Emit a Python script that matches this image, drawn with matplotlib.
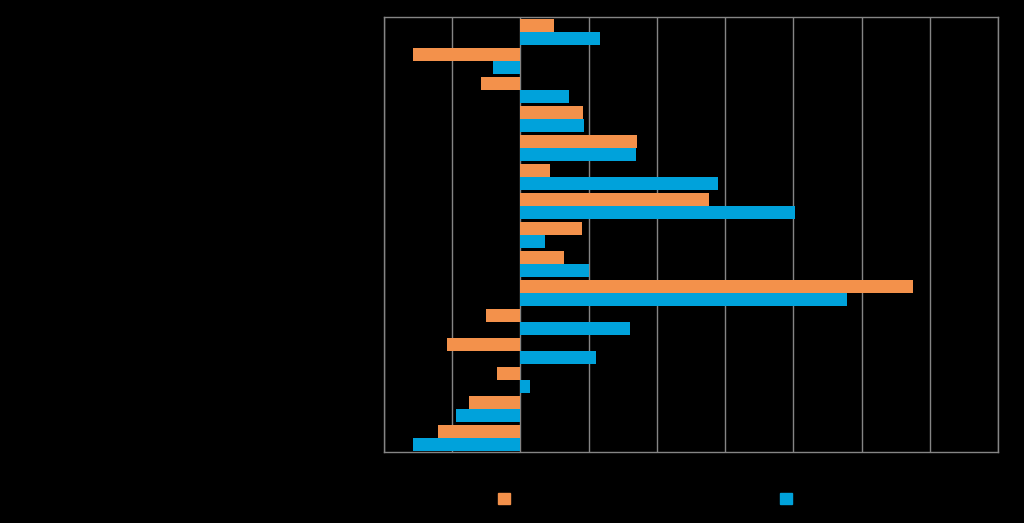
import numpy as np
import matplotlib
matplotlib.use("Agg")
import matplotlib.pyplot as plt
from matplotlib.patches import Patch

# categories top to bottom (labels are drawn black on black in the reference)
categories = ["Luokka 1", "Luokka 2", "Luokka 3", "Luokka 4", "Luokka 5",
              "Luokka 6", "Luokka 7", "Luokka 8", "Luokka 9", "Luokka 10",
              "Luokka 11", "Luokka 12", "Luokka 13", "Luokka 14", "Luokka 15"]
orange_vals = [0.49, -1.57, -0.58, 0.91, 1.71, 0.44, 2.76, 0.90, 0.64,
               5.75, -0.50, -1.08, -0.34, -0.75, -1.21]
blue_vals = [1.16, -0.40, 0.71, 0.93, 1.70, 2.89, 4.02, 0.36, 1.00,
             4.79, 1.61, 1.11, 0.14, -0.95, -1.57]
series_names = ["2015", "2016"]
xticks = [-2, -1, 0, 1, 2, 3, 4, 5, 6, 7]

orange = "#F3914B"
blue = "#00A2DB"
grid_col = "#858585"

fig = plt.figure(figsize=(10.24, 5.23), dpi=100, facecolor="black")
ax = fig.add_axes([384 / 1024, 1 - 452 / 523, 614 / 1024, 435 / 523])
ax.set_facecolor("black")

y = np.arange(len(categories))
h = 0.44
ax.barh(y - 0.21, orange_vals, height=h, color=orange, zorder=3)
ax.barh(y + 0.23, blue_vals, height=h, color=blue, zorder=3)

ax.set_xlim(-2, 7)
ax.set_ylim(len(categories) - 0.5, -0.5)
ax.set_xticks(xticks)
ax.set_xticklabels([str(t) for t in xticks], color="black")
ax.set_yticks(y)
ax.set_yticklabels(categories, color="black")
ax.tick_params(length=0)
ax.grid(axis="x", color=grid_col, linewidth=1, zorder=0)
for s in ax.spines.values():
    s.set_color(grid_col)
    s.set_linewidth(1)

# legend: two separate entries placed below the plot
fs = 10
hl = 12 / (fs * 100 / 72)
leg1 = fig.legend(handles=[Patch(color=orange)], labels=[series_names[0]],
                  loc="center left", bbox_to_anchor=(497.5 / 1024, 1 - 499 / 523),
                  frameon=False, fontsize=fs, handlelength=hl, handleheight=hl,
                  borderpad=0, borderaxespad=0, labelcolor="black")
leg2 = fig.legend(handles=[Patch(color=blue)], labels=[series_names[1]],
                  loc="center left", bbox_to_anchor=(779.5 / 1024, 1 - 499 / 523),
                  frameon=False, fontsize=fs, handlelength=hl, handleheight=hl,
                  borderpad=0, borderaxespad=0, labelcolor="black")

fig.savefig("out.png", dpi=100, facecolor="black")
